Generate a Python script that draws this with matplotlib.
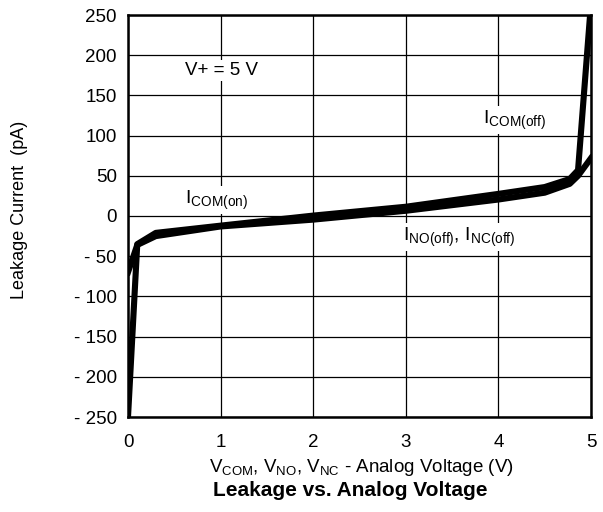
import matplotlib.pyplot as plt

plt.rcParams["font.family"] = ["Liberation Sans", "DejaVu Sans"]

# ICOM(off) branch: from -250 at 0 V, rising steeply to 250 at 5 V
v_com_off = [0.0, 0.1, 0.3, 1.0, 2.0, 3.0, 4.0, 4.5, 4.77, 4.86, 4.99]
i_com_off = [-250, -35, -21, -12, 0.5, 11.5, 27.5, 36, 46, 57, 250]

# INO(off)/INC(off) and ICOM(on) branch
v_no_off = [0.0, 0.1, 0.3, 1.0, 2.0, 3.0, 4.0, 4.5, 4.77, 4.86, 5.0]
i_no_off = [-70, -36, -25, -13, -4.5, 6.5, 20.5, 29, 40, 50, 72]

xticks = [0, 1, 2, 3, 4, 5]
yticks = [-250, -200, -150, -100, -50, 0, 50, 100, 150, 200, 250]
ytick_labels = ["- 250", "- 200", "- 150", "- 100", "- 50", "0",
                "50", "100", "150", "200", "250"]

fig = plt.figure(figsize=(6.03, 5.12), dpi=100)
ax = fig.add_axes([128 / 603, 95 / 512, 463 / 603, 402 / 512])

ax.plot(v_com_off, i_com_off, color="black", lw=4.4, solid_joinstyle="round")
ax.plot(v_no_off, i_no_off, color="black", lw=4.4, solid_joinstyle="round")

ax.set_xlim(0, 5)
ax.set_ylim(-250, 250)
ax.set_xticks(xticks)
ax.set_yticks(yticks)
ax.set_yticklabels(ytick_labels)
ax.tick_params(length=0, labelsize=13.5, pad=8)
ax.tick_params(axis="x", pad=12)
ax.grid(True, color="black", lw=0.9)
ax.set_axisbelow(True)
for s in ax.spines.values():
    s.set_linewidth(1.8)

box = dict(facecolor="white", edgecolor="none", pad=1.5)
ax.text(0.62, 181, "V+ = 5 V", fontsize=13.5, va="center", bbox=box)
ax.text(0.62, 20, r"I$_{\mathregular{COM(on)}}$", fontsize=14,
        va="center", bbox=box)
ax.text(2.97, -26, r"I$_{\mathregular{NO(off)}}$, I$_{\mathregular{NC(off)}}$",
        fontsize=14, va="center", bbox=box)
ax.text(3.83, 119, r"I$_{\mathregular{COM(off)}}$", fontsize=14,
        va="center", bbox=box)

fig.text(361 / 603, 1 - 468 / 512,
         r"V$_{\mathregular{COM}}$, V$_{\mathregular{NO}}$, "
         r"V$_{\mathregular{NC}}$ - Analog Voltage (V)",
         fontsize=13.5, ha="center", va="center")
fig.text(20 / 603, 1 - 210 / 512, "Leakage Current  (pA)", fontsize=13,
         rotation=90, ha="center", va="center")
fig.text(350 / 603, 1 - 491 / 512, "Leakage vs. Analog Voltage",
         fontsize=15, fontweight="bold", ha="center", va="center")

fig.savefig("out.png", dpi=100)
